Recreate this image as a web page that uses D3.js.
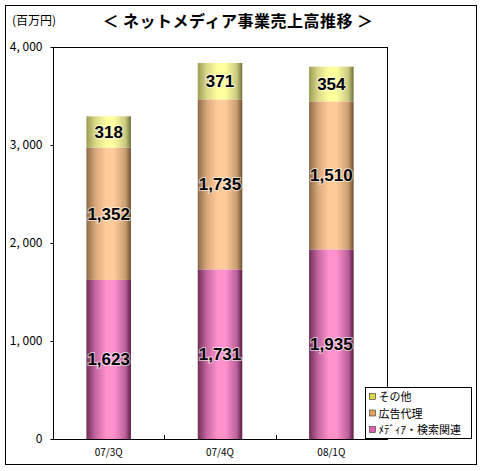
<!DOCTYPE html>
<html>
<head>
<meta charset="utf-8">
<script src="https://cdn.jsdelivr.net/npm/d3@7"></script>
<style>
  body { margin: 0; background: #fff; }
  svg { display: block; }
</style>
</head>
<body>
<svg width="482" height="471"></svg>
<script>
// chart data
var quarters = ['07/3Q', '07/4Q', '08/1Q'];
var mediaSearch = [1623, 1731, 1935];   // メディア・検索関連
var adAgency = [1352, 1735, 1510];      // 広告代理
var others = [318, 371, 354];           // その他
var seriesNames = ['ﾒﾃﾞｨｱ・検索関連', '広告代理', 'その他'];
var yTicks = [0, 1000, 2000, 3000, 4000];

var svg = d3.select('svg');
var jpFont = '"Noto Sans CJK JP", sans-serif';

// outer frame
svg.append('rect')
    .attr('x', 5.5).attr('y', 5.5)
    .attr('width', 471).attr('height', 459)
    .attr('fill', '#fff')
    .attr('stroke', '#000');

var plot = {l: 53, t: 47, r: 387, b: 439};

// gradients for the cylinder look
var defs = svg.append('defs');
var gradStops = [
    ['gPink', ['#6e2f55', '#c565a0', '#ff92cc', '#ff92cc', '#b8609a', '#5a1a40']],
    ['gOrange', ['#8c6a48', '#d9a77a', '#ffcc99', '#ffcc99', '#c89c70', '#6e4e30']],
    ['gYellow', ['#9c9c55', '#d8d888', '#ffff9e', '#ffff9e', '#c8c880', '#70703a']]
];
gradStops.forEach(function(g) {
    var lg = defs.append('linearGradient').attr('id', g[0])
        .attr('x1', '0%').attr('x2', '100%').attr('y1', '0%').attr('y2', '0%');
    var offs = [0, 0.2, 0.45, 0.62, 0.88, 1];
    g[1].forEach(function(c, i) {
        lg.append('stop').attr('offset', offs[i]).attr('stop-color', c);
    });
});
var fills = ['url(#gPink)', 'url(#gOrange)', 'url(#gYellow)'];
var swatch = ['#e060b0', '#e0a060', '#d8d840'];

var x = d3.scaleBand()
    .domain(quarters)
    .range([plot.l, plot.r])
    .paddingInner(0.6)
    .paddingOuter(0.3);

var y = d3.scaleLinear()
    .domain([0, 4000])
    .range([plot.b, plot.t]);

// plot area border
svg.append('rect')
    .attr('x', plot.l + 0.5).attr('y', plot.t + 0.5)
    .attr('width', plot.r - plot.l).attr('height', plot.b - plot.t)
    .attr('fill', 'none')
    .attr('stroke', '#000');

// stacked data
var table = quarters.map(function(q, i) {
    return {q: q, media: mediaSearch[i], ad: adAgency[i], other: others[i]};
});
var stack = d3.stack().keys(['media', 'ad', 'other']);
var layers = stack(table);

var layerG = svg.selectAll('.layer')
    .data(layers)
    .enter().append('g')
    .attr('class', 'layer');

layerG.selectAll('rect')
    .data(function(d, i) { return d.map(function(p) { return {p: p, i: i}; }); })
    .enter().append('rect')
    .attr('x', function(d) { return x(d.p.data.q); })
    .attr('y', function(d) { return y(d.p[1]); })
    .attr('width', x.bandwidth())
    .attr('height', function(d) { return y(d.p[0]) - y(d.p[1]); })
    .attr('fill', function(d) { return fills[d.i]; });

// value labels
var fmt = d3.format(',');
layerG.selectAll('text')
    .data(function(d) { return d; })
    .enter().append('text')
    .attr('x', function(d) { return x(d.data.q) + x.bandwidth() / 2; })
    .attr('y', function(d) { return (y(d[0]) + y(d[1])) / 2 + 6; })
    .attr('text-anchor', 'middle')
    .attr('font-family', 'Arial, "Liberation Sans", sans-serif')
    .attr('font-weight', 'bold')
    .attr('font-size', 17)
    .attr('fill', '#000')
    .attr('stroke', '#fff')
    .attr('stroke-width', 2)
    .attr('stroke-opacity', 0.6)
    .attr('paint-order', 'stroke')
    .text(function(d) { return fmt(d[1] - d[0]); });

// y axis
var yAxisG = svg.append('g')
    .attr('transform', 'translate(' + (plot.l + 0.5) + ',0)')
    .call(d3.axisLeft(y).tickValues(yTicks).tickSize(3).tickPadding(8)
        .tickFormat(function(d) { return d3.format(',')(d).replace(',', ', '); }));
yAxisG.select('.domain').remove();
yAxisG.selectAll('text')
    .attr('font-family', jpFont)
    .attr('font-size', 12)
    .attr('fill', '#000');
yAxisG.selectAll('line').attr('stroke', '#000');

// x axis
var xAxisG = svg.append('g')
    .attr('transform', 'translate(0,' + (plot.b + 0.5) + ')');
xAxisG.call(d3.axisBottom(x).tickSize(0).tickPadding(9));
xAxisG.select('.domain').remove();
xAxisG.selectAll('text')
    .attr('font-family', jpFont)
    .attr('font-size', 10)
    .attr('fill', '#000');
// category separator ticks
[1, 2].forEach(function(k) {
    var tx = Math.round(plot.l + (plot.r - plot.l) * k / 3) + 0.5;
    svg.append('line')
        .attr('x1', tx).attr('x2', tx)
        .attr('y1', plot.b - 4).attr('y2', plot.b)
        .attr('stroke', '#000');
});

// title
svg.append('text')
    .attr('x', 238).attr('y', 27)
    .attr('text-anchor', 'middle')
    .attr('font-family', jpFont)
    .attr('font-weight', 'bold')
    .attr('font-size', 16)
    .attr('letter-spacing', 0.5)
    .text('＜ ネットメディア事業売上高推移 ＞');

svg.append('text')
    .attr('x', 12).attr('y', 25)
    .attr('font-family', jpFont)
    .attr('font-size', 12)
    .text('(百万円)');

// legend
var legend = svg.append('g').attr('transform', 'translate(365.5,387.5)');
legend.append('rect')
    .attr('width', 106).attr('height', 51)
    .attr('fill', '#fff').attr('stroke', '#000');
var legendOrder = [2, 1, 0];
legendOrder.forEach(function(si, k) {
    var row = legend.append('g').attr('transform', 'translate(4,' + (12 + k * 16.5) + ')');
    row.append('rect')
        .attr('x', 0).attr('y', -6).attr('width', 6).attr('height', 6)
        .attr('fill', swatch[si]).attr('stroke', '#333').attr('stroke-width', 0.6);
    row.append('text')
        .attr('x', 9).attr('y', 1.5)
        .attr('font-family', jpFont)
        .attr('font-size', 11)
        .text(seriesNames[si]);
});
</script>
</body>
</html>
